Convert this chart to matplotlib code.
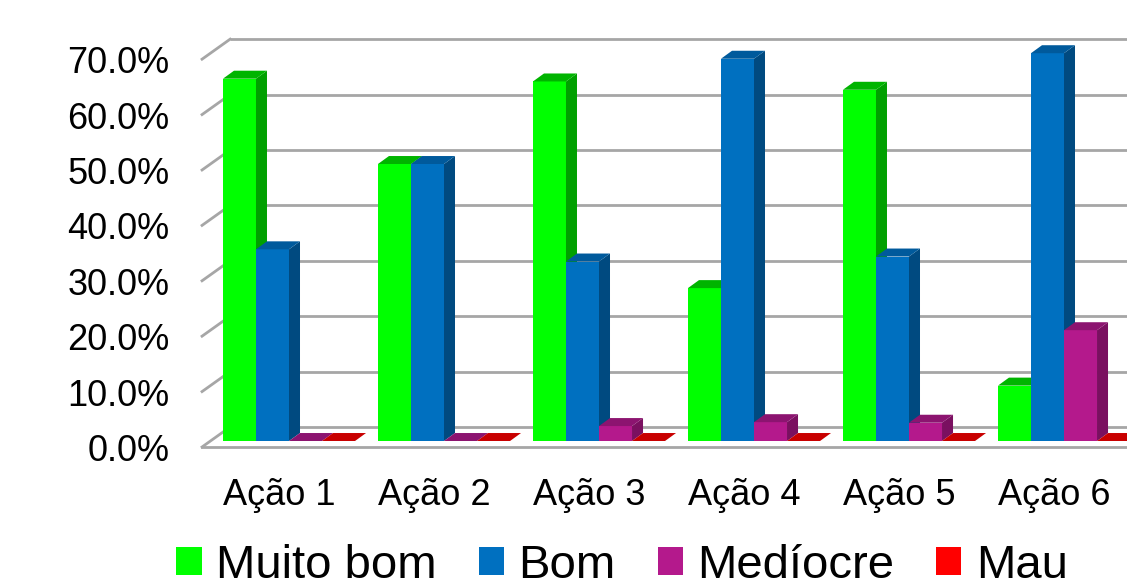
import matplotlib
matplotlib.use("Agg")
import matplotlib.pyplot as plt
from matplotlib.patches import Polygon, Patch

# --- Data ---
CATEGORIES = ["Ação 1", "Ação 2", "Ação 3", "Ação 4", "Ação 5", "Ação 6"]
SERIES = ["Muito bom", "Bom", "Medíocre", "Mau"]
MUITO_BOM = [65.4, 50.0, 64.9, 27.6, 63.4, 10.0]
BOM = [34.6, 50.0, 32.4, 69.0, 33.3, 70.0]
MEDIOCRE = [0.0, 0.0, 2.7, 3.4, 3.3, 20.0]
MAU = [0.0, 0.0, 0.0, 0.0, 0.0, 0.0]
Y_TICKS = [0, 10, 20, 30, 40, 50, 60, 70]

# --- Style ---
# (front, top, side) shades per series
COLORS = [
    ("#00ff00", "#00b400", "#00a000"),
    ("#0070c0", "#005a9c", "#004a80"),
    ("#b4198c", "#8c1470", "#7a1060"),
    ("#ff0000", "#c80000", "#a00000"),
]
GRID = "#a6a6a6"

BAR_W = 0.213          # one bar, in group units
DEPTH = (0.071, 1.44)  # bar depth offset (x units, % units)
FRONT = (-0.052, -1.08)  # axis front plane relative to bar faces
BACK = (0.129, 2.53)     # back wall relative to bar faces
X_LEFT = -0.561          # left edge of the floor, front plane

plt.rcParams['font.family'] = ['Liberation Sans', 'DejaVu Sans']

fig = plt.figure(figsize=(11.27, 5.86), dpi=100)
ax = fig.add_axes([0, 0, 1, 1])
ax.set_xlim(-289 / 155, (1127 - 289) / 155)
ax.set_ylim(-145 / 5.54, 441 / 5.54)
ax.axis("off")

x_right = ax.get_xlim()[1] + 1

# back wall gridlines and the slanted side-wall lines
for t in Y_TICKS:
    yf = t + FRONT[1]
    yb = t + BACK[1]
    xb = X_LEFT + (BACK[0] - FRONT[0])
    ax.plot([xb, x_right], [yb, yb], color=GRID, lw=2, zorder=1,
            solid_capstyle="butt")
    ax.plot([X_LEFT, xb], [yf, yb], color=GRID, lw=2, zorder=1)
    ax.text(-0.77, yf - 0.8, f"{t:.1f}%", ha="right", va="center", fontsize=26)

# floor front edge
ax.plot([X_LEFT, x_right], [FRONT[1], FRONT[1]], color=GRID, lw=2, zorder=1)

# --- Bars ---
series_values = [MUITO_BOM, BOM, MEDIOCRE, MAU]
dx, dy = DEPTH
z = 2
for i in range(len(CATEGORIES)):
    for j, vals in enumerate(series_values):
        h = vals[i]
        x0 = i - 2 * BAR_W + j * BAR_W
        x1 = x0 + BAR_W
        front, top, side = COLORS[j]
        if h > 0:
            ax.add_patch(Polygon([(x0, 0), (x1, 0), (x1, h), (x0, h)],
                                 closed=True, fc=front, ec="none", zorder=z))
            ax.add_patch(Polygon([(x1, 0), (x1 + dx, dy), (x1 + dx, h + dy), (x1, h)],
                                 closed=True, fc=side, ec="none", zorder=z))
        ax.add_patch(Polygon([(x0, h), (x1, h), (x1 + dx, h + dy), (x0 + dx, h + dy)],
                             closed=True, fc=top, ec="none", zorder=z))
        z += 1

# category labels
for i, name in enumerate(CATEGORIES):
    ax.text(i - 0.065, -9.8, name, ha="center", va="center", fontsize=26)

# --- Legend ---
handles = [Patch(fc=c[0], ec="none") for c in COLORS]
fig.legend(handles, SERIES, loc="center", bbox_to_anchor=(622 / 1127, 1 - 566 / 586),
           ncol=4, frameon=False, fontsize=34, handlelength=0.53, handleheight=0.53,
           handletextpad=0.3, columnspacing=0.9, borderpad=0, borderaxespad=0)

fig.savefig("out.png", dpi=100)
